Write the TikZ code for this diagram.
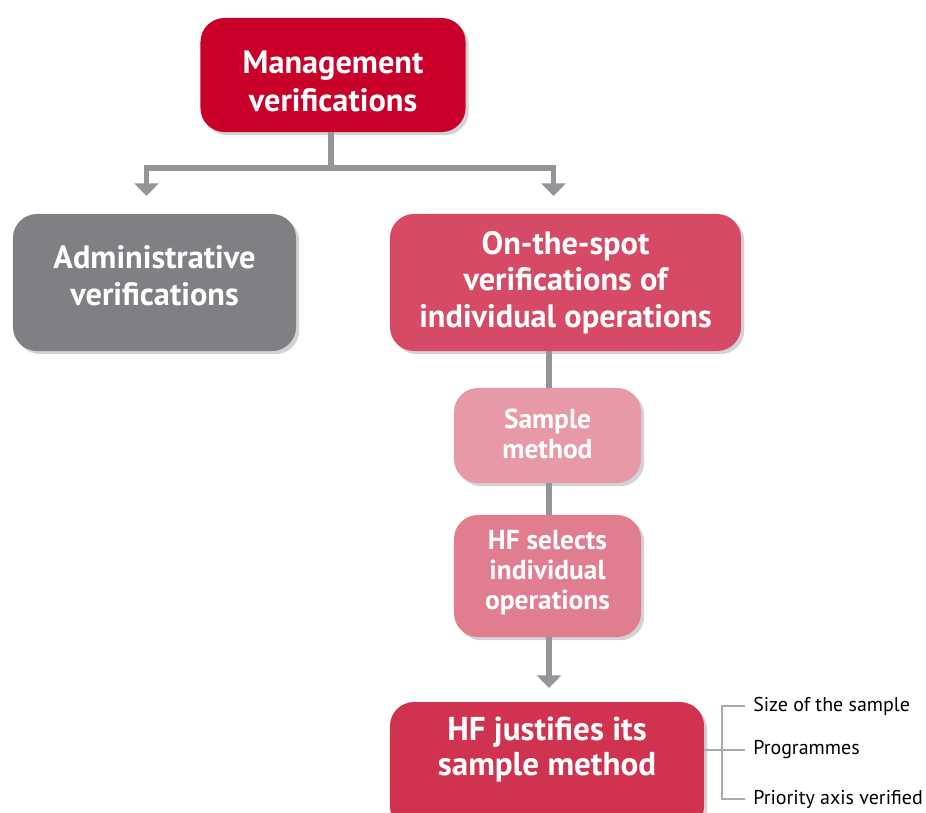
\documentclass[tikz,border=0pt]{standalone}
\usepackage{fontspec}
\setmainfont{PT Sans}
\usetikzlibrary{arrows.meta,positioning,shadows}

\definecolor{mgmtred}{RGB}{200,0,42}
\definecolor{admingray}{RGB}{128,127,132}
\definecolor{spotpink}{RGB}{214,74,101}
\definecolor{samplepink}{RGB}{232,153,167}
\definecolor{selectpink}{RGB}{224,126,144}
\definecolor{justred}{RGB}{208,51,79}
\definecolor{linegray}{RGB}{147,149,152}
\definecolor{brkgray}{RGB}{167,169,172}

\tikzset{
  box/.style={rectangle,rounded corners=0.6cm,text=white,font=\bfseries,align=center,
    inner sep=0pt,outer sep=0pt,drop shadow={shadow xshift=0.8mm,shadow yshift=-0.8mm,opacity=0.35}},
  bigtext/.style={font=\bfseries\fontsize{23}{26}\selectfont},
  smalltext/.style={font=\bfseries\fontsize{19.5}{21.5}\selectfont},
  conn/.style={draw=linegray,line width=4pt},
  tip/.style={-{Triangle[width=17pt,length=9pt]}},
  brk/.style={draw=brkgray,line width=1.3pt},
  item/.style={anchor=west,inner sep=2mm,font=\fontsize{14.2}{16}\selectfont}
}

\begin{document}
\begin{tikzpicture}[x=0.025cm,y=-0.025cm]
\useasboundingbox (0,0) rectangle (926,812);

%%%%%%%%%%%%%%%%%%%%%%%%%%
\node[box,fill=mgmtred,minimum width=6.625cm,minimum height=2.85cm,bigtext,font=\bfseries\fontsize{23}{27}\selectfont,text height=52pt] (mgmt) at (333,75) {Management\\verifications};

\node[box,fill=admingray,minimum width=7.075cm,minimum height=3.425cm,bigtext,text depth=10pt] (admin) at (154.5,282.5) {Administrative\\verifications};
\node[box,fill=spotpink,minimum width=8.775cm,minimum height=3.425cm,bigtext] (spot) at (565.5,282.5) {On-the-spot\\verifications of\\individual operations};

%%%%%%%%%%%%%%%%%%%%%%%%%%
\node[box,fill=samplepink,minimum width=4.675cm,minimum height=2.375cm,smalltext,text depth=3pt] (sample) at (547.5,435.5) {Sample\\method};
\node[box,fill=selectpink,minimum width=4.675cm,minimum height=3.05cm,smalltext,text depth=9pt] (select) at (547.5,576) {HF selects\\individual\\operations};

\node[box,fill=justred,minimum width=7.85cm,minimum height=3.2cm,font=\bfseries\fontsize{23.5}{25}\selectfont,text depth=28pt] (just) at (547,766) {HF justifies its\\sample method};

%%%
% TOP
\coordinate (split) at (331,168);
\draw[conn] (mgmt.south -| split) -- (split);
\draw[conn,tip] (split) -| ([xshift=-2mm,yshift=4.5mm]admin.north);
\draw[conn,tip] (split) -| ([xshift=-3mm,yshift=4.5mm]spot.north);

% DOWN
\draw[conn] (spot.south -| 549,0) -- (sample.north -| 549,0);
\draw[conn] (sample.south -| 549,0) -- (select.north -| 549,0);
\draw[conn,tip] (select.south -| 549,0) -- ([yshift=3.5mm]just.north -| 549,0);

% SIDE
\coordinate (brkmid) at (722,750);
\node[item] (nsize) at (745,706) {Size of the sample};
\node[item] (nprog) at (745,750) {Programmes};
\node[item] (nprio) at (745,799) {Priority axis verified};
\draw[brk] (just.east |- brkmid) -- (brkmid) -- (nprog.west);
\draw[brk] (nsize.west) -| (brkmid);
\draw[brk] (nprio.west) -| (brkmid);

\end{tikzpicture}
\end{document}
